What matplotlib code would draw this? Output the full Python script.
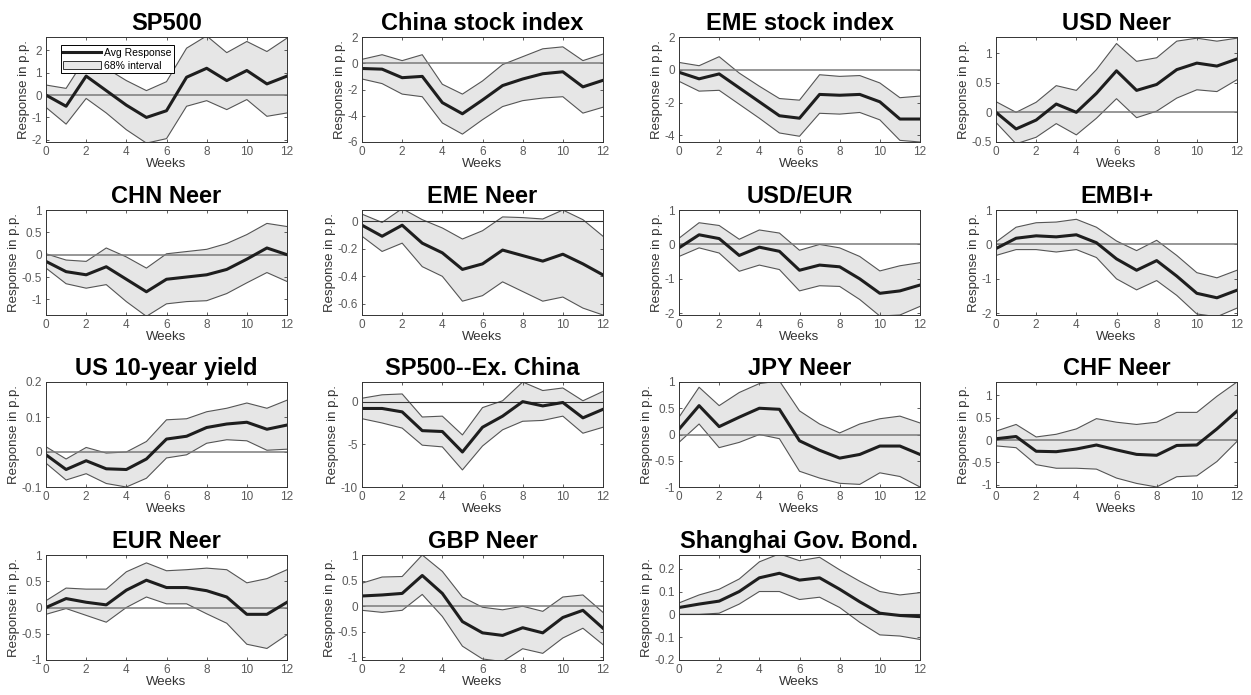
import matplotlib
matplotlib.use("Agg")
import matplotlib.pyplot as plt
import numpy as np

plt.rcParams['font.family'] = ['Liberation Sans', 'DejaVu Sans']

weeks = np.arange(13)

titles = ["SP500", "China stock index", "EME stock index", "USD Neer",
          "CHN Neer", "EME Neer", "USD/EUR", "EMBI+",
          "US 10-year yield", "SP500--Ex. China", "JPY Neer", "CHF Neer",
          "EUR Neer", "GBP Neer", "Shanghai Gov. Bond."]

# average response per panel
avg = [
    [0, -0.5, 0.85, 0.2, -0.45, -1.0, -0.7, 0.8, 1.2, 0.65, 1.1, 0.5, 0.85],
    [-0.4, -0.45, -1.1, -1.0, -3.0, -3.85, -2.8, -1.7, -1.2, -0.8, -0.65, -1.8, -1.3],
    [-0.15, -0.55, -0.25, -1.1, -1.95, -2.8, -2.95, -1.5, -1.55, -1.5, -1.95, -3.0, -3.0],
    [0, -0.28, -0.13, 0.14, 0.0, 0.32, 0.7, 0.37, 0.47, 0.72, 0.83, 0.78, 0.9],
    [-0.15, -0.38, -0.45, -0.27, -0.55, -0.83, -0.55, -0.5, -0.45, -0.33, -0.1, 0.15, 0.0],
    [-0.03, -0.11, -0.03, -0.16, -0.23, -0.35, -0.31, -0.21, -0.25, -0.29, -0.24, -0.31, -0.39],
    [-0.1, 0.28, 0.17, -0.32, -0.08, -0.2, -0.75, -0.6, -0.65, -1.0, -1.42, -1.35, -1.18],
    [-0.12, 0.18, 0.25, 0.22, 0.28, 0.05, -0.42, -0.75, -0.47, -0.92, -1.42, -1.55, -1.33],
    [-0.008, -0.05, -0.025, -0.048, -0.05, -0.02, 0.037, 0.045, 0.07, 0.08, 0.085, 0.065, 0.077],
    [-0.8, -0.8, -1.2, -3.4, -3.5, -5.9, -3.0, -1.7, 0.0, -0.5, -0.1, -1.9, -0.9],
    [0.1, 0.55, 0.15, 0.33, 0.5, 0.48, -0.12, -0.3, -0.45, -0.38, -0.22, -0.22, -0.38],
    [0.03, 0.08, -0.25, -0.26, -0.2, -0.11, -0.22, -0.32, -0.34, -0.12, -0.11, 0.25, 0.65],
    [0.0, 0.17, 0.1, 0.05, 0.33, 0.52, 0.38, 0.38, 0.32, 0.2, -0.13, -0.13, 0.1],
    [0.2, 0.22, 0.25, 0.6, 0.25, -0.3, -0.52, -0.57, -0.42, -0.52, -0.22, -0.08, -0.43],
    [0.03, 0.045, 0.058, 0.1, 0.16, 0.18, 0.15, 0.16, 0.11, 0.055, 0.005, -0.005, -0.01],
]

# 68% interval, upper bound
upper = [
    [0.45, 0.3, 1.7, 1.2, 0.65, 0.2, 0.6, 2.1, 2.65, 1.9, 2.4, 1.95, 2.55],
    [0.3, 0.65, 0.2, 0.65, -1.6, -2.35, -1.35, -0.1, 0.5, 1.1, 1.25, 0.2, 0.7],
    [0.45, 0.25, 0.8, -0.2, -1.0, -1.75, -1.85, -0.3, -0.4, -0.35, -0.8, -1.7, -1.6],
    [0.18, 0.0, 0.17, 0.45, 0.37, 0.72, 1.16, 0.86, 0.92, 1.2, 1.25, 1.2, 1.25],
    [0.02, -0.12, -0.15, 0.15, -0.05, -0.3, 0.02, 0.07, 0.12, 0.25, 0.45, 0.7, 0.63],
    [0.05, -0.01, 0.09, 0.01, -0.05, -0.13, -0.07, 0.03, 0.025, 0.015, 0.08, 0.01, -0.11],
    [0.18, 0.63, 0.55, 0.15, 0.42, 0.33, -0.17, 0.0, -0.1, -0.35, -0.77, -0.62, -0.53],
    [0.07, 0.5, 0.63, 0.65, 0.73, 0.5, 0.1, -0.18, 0.12, -0.32, -0.82, -0.97, -0.75],
    [0.015, -0.02, 0.013, -0.003, 0.0, 0.03, 0.092, 0.095, 0.115, 0.125, 0.14, 0.125, 0.148],
    [0.4, 0.8, 0.9, -1.8, -1.7, -3.9, -0.7, 0.1, 2.3, 1.3, 1.6, 0.1, 1.2],
    [0.33, 0.9, 0.55, 0.8, 0.97, 1.02, 0.45, 0.2, 0.03, 0.2, 0.3, 0.35, 0.22],
    [0.2, 0.35, 0.07, 0.13, 0.25, 0.48, 0.4, 0.35, 0.4, 0.62, 0.62, 0.98, 1.3],
    [0.13, 0.37, 0.35, 0.35, 0.68, 0.85, 0.7, 0.72, 0.75, 0.72, 0.47, 0.55, 0.72],
    [0.45, 0.57, 0.58, 1.0, 0.68, 0.18, -0.02, -0.07, 0.0, -0.1, 0.18, 0.22, -0.12],
    [0.05, 0.085, 0.11, 0.155, 0.23, 0.265, 0.235, 0.25, 0.195, 0.145, 0.1, 0.085, 0.095],
]

# 68% interval, lower bound
lower = [
    [-0.55, -1.3, -0.15, -0.8, -1.55, -2.15, -1.95, -0.5, -0.25, -0.65, -0.2, -0.95, -0.8],
    [-1.2, -1.55, -2.35, -2.55, -4.55, -5.4, -4.3, -3.3, -2.85, -2.65, -2.55, -3.8, -3.35],
    [-0.7, -1.3, -1.25, -2.1, -2.95, -3.85, -4.05, -2.65, -2.7, -2.6, -3.05, -4.3, -4.4],
    [-0.17, -0.53, -0.42, -0.19, -0.38, -0.1, 0.23, -0.09, 0.02, 0.24, 0.38, 0.35, 0.55],
    [-0.3, -0.65, -0.75, -0.67, -1.05, -1.38, -1.1, -1.05, -1.03, -0.87, -0.63, -0.4, -0.6],
    [-0.11, -0.22, -0.16, -0.33, -0.40, -0.58, -0.54, -0.44, -0.51, -0.58, -0.55, -0.63, -0.68],
    [-0.35, -0.1, -0.25, -0.78, -0.6, -0.73, -1.35, -1.2, -1.22, -1.6, -2.08, -2.05, -1.8],
    [-0.32, -0.15, -0.15, -0.22, -0.15, -0.38, -1.0, -1.32, -1.05, -1.48, -2.02, -2.1, -1.85],
    [-0.032, -0.08, -0.062, -0.09, -0.1, -0.075, -0.017, -0.008, 0.025, 0.035, 0.032, 0.005, 0.008],
    [-2.0, -2.5, -3.1, -5.1, -5.3, -8.0, -5.2, -3.3, -2.3, -2.2, -1.7, -3.7, -3.0],
    [-0.15, 0.2, -0.25, -0.15, 0.0, -0.08, -0.7, -0.83, -0.93, -0.95, -0.73, -0.8, -1.0],
    [-0.13, -0.17, -0.55, -0.63, -0.63, -0.65, -0.85, -0.97, -1.05, -0.82, -0.8, -0.48, -0.03],
    [-0.13, -0.02, -0.15, -0.28, 0.0, 0.2, 0.07, 0.07, -0.12, -0.3, -0.7, -0.78, -0.52],
    [-0.08, -0.12, -0.08, 0.23, -0.2, -0.78, -1.03, -1.08, -0.83, -0.92, -0.62, -0.43, -0.75],
    [0.0, 0.0, 0.005, 0.045, 0.1, 0.1, 0.065, 0.075, 0.03, -0.035, -0.09, -0.095, -0.11],
]

ylims = [(-2.1, 2.6), (-6, 2), (-4.4, 2), (-0.5, 1.27),
         (-1.35, 1), (-0.68, 0.08), (-2.05, 1), (-2.05, 1),
         (-0.1, 0.2), (-10, 2.3), (-1, 1), (-1.05, 1.3),
         (-1, 1), (-1.05, 1), (-0.2, 0.26)]

yticks = [[-2, -1, 0, 1, 2], [-6, -4, -2, 0, 2], [-4, -2, 0, 2], [-0.5, 0, 0.5, 1],
          [-1, -0.5, 0, 0.5, 1], [-0.6, -0.4, -0.2, 0], [-2, -1, 0, 1], [-2, -1, 0, 1],
          [-0.1, 0, 0.1, 0.2], [-10, -5, 0], [-1, -0.5, 0, 0.5, 1], [-1, -0.5, 0, 0.5, 1],
          [-1, -0.5, 0, 0.5, 1], [-1, -0.5, 0, 0.5, 1], [-0.2, -0.1, 0, 0.1, 0.2]]

# panels whose zero line is drawn thin and dark instead of grey
dark_zero = [5, 9, 14]

W, H = 1251, 695
fig = plt.figure(figsize=(W / 100, H / 100), dpi=100)

col_left = [46, 362, 679, 996]
row_top = [37, 210, 382, 555]
ax_w, ax_h = 241, 105

for i, name in enumerate(titles):
    r, c = divmod(i, 4)
    ax = fig.add_axes([col_left[c] / W, 1 - (row_top[r] + ax_h) / H, ax_w / W, ax_h / H])
    ax.fill_between(weeks, lower[i], upper[i], facecolor='#e6e6e6', edgecolor='none')
    ax.plot(weeks, upper[i], color='#555555', lw=0.8)
    ax.plot(weeks, lower[i], color='#555555', lw=0.8)
    if i in dark_zero:
        ax.axhline(0, color='#333333', lw=0.8)
    else:
        ax.axhline(0, color='#7a7a7a', lw=1.1)
    line, = ax.plot(weeks, avg[i], color='#1e1e1e', lw=2.2)

    ax.set_xlim(0, 12)
    ax.set_ylim(*ylims[i])
    ax.set_xticks(range(0, 13, 2))
    ax.set_yticks(yticks[i])
    ax.set_yticklabels(['%g' % v for v in yticks[i]])
    ax.tick_params(direction='in', length=2.5, width=0.6, top=True, right=True,
                   labelsize=8.5, colors='#444444', labelcolor='#5a5a5a', pad=3)
    for s in ax.spines.values():
        s.set_color('#333333')
        s.set_linewidth(0.7)
    ax.set_title(name, fontsize=17, fontweight='bold', pad=5)
    ax.set_xlabel('Weeks', fontsize=9.5, color='#333333', labelpad=0)
    ax.set_ylabel('Response in p.p.', fontsize=9.5, color='#333333', labelpad=1)

    if i == 0:
        proxy = plt.Rectangle((0, 0), 1, 1, facecolor='#e6e6e6', edgecolor='#333333', lw=0.7)
        leg = ax.legend([line, proxy], ['Avg Response', '68% interval'], loc='upper left',
                        bbox_to_anchor=(0.04, 0.97), fontsize=7.5, frameon=True,
                        fancybox=False, edgecolor='black', framealpha=1,
                        handlelength=3.6, borderpad=0.25, labelspacing=0.25, handletextpad=0.3)
        leg.get_frame().set_linewidth(0.7)

fig.savefig('out.png', dpi=100)
